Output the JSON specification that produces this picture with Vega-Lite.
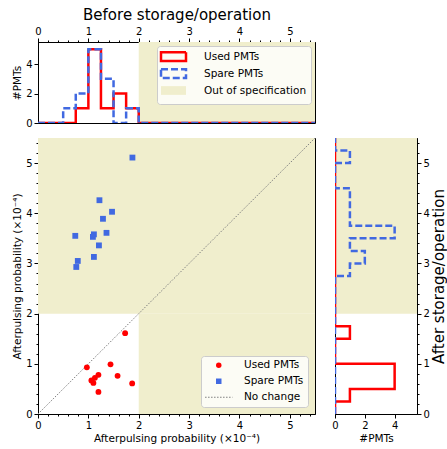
{
  "$schema": "https://vega.github.io/schema/vega-lite/v6.json",
  "background": "white",
  "padding": {"left": 12, "top": 6, "right": 1, "bottom": 2},
  "spacing": 6,
  "resolve": {"scale": {"fill": "independent", "stroke": "independent", "strokeDash": "independent", "shape": "independent", "x": "independent", "y": "independent"}, "legend": {"fill": "independent", "stroke": "independent", "strokeDash": "independent", "shape": "independent"}},
  "config": {
    "font": "DejaVu Sans",
    "view": {"stroke": "black", "strokeWidth": 1},
    "axis": {"labelFont": "DejaVu Sans", "titleFont": "DejaVu Sans", "labelFontSize": 10, "titleFontSize": 10.5, "titleFontWeight": "normal", "tickColor": "black", "domainColor": "black", "labelColor": "black", "titleColor": "black", "tickSize": 4, "labelPadding": 2, "titlePadding": 3, "grid": false, "labelFlush": false, "labelOverlap": false},
    "legend": {"labelFont": "DejaVu Sans", "labelFontSize": 10.5, "labelColor": "black", "fillColor": "rgba(255,255,255,0.8)", "strokeColor": "#cccccc", "cornerRadius": 3, "padding": 4, "symbolOpacity": 1}
  },
  "datasets": {
    "pmts": [
      {"type": "Used PMTs", "before": 0.97, "after": 0.93},
      {"type": "Used PMTs", "before": 1.06, "after": 0.67},
      {"type": "Used PMTs", "before": 1.10, "after": 0.62},
      {"type": "Used PMTs", "before": 1.13, "after": 0.72},
      {"type": "Used PMTs", "before": 1.20, "after": 0.78},
      {"type": "Used PMTs", "before": 1.20, "after": 0.44},
      {"type": "Used PMTs", "before": 1.44, "after": 0.99},
      {"type": "Used PMTs", "before": 1.58, "after": 0.76},
      {"type": "Used PMTs", "before": 1.73, "after": 1.61},
      {"type": "Used PMTs", "before": 1.87, "after": 0.61},
      {"type": "Spare PMTs", "before": 1.875, "after": 5.11},
      {"type": "Spare PMTs", "before": 1.22, "after": 4.26},
      {"type": "Spare PMTs", "before": 1.47, "after": 4.03},
      {"type": "Spare PMTs", "before": 1.29, "after": 3.89},
      {"type": "Spare PMTs", "before": 0.74, "after": 3.55},
      {"type": "Spare PMTs", "before": 1.11, "after": 3.58},
      {"type": "Spare PMTs", "before": 1.09, "after": 3.53},
      {"type": "Spare PMTs", "before": 1.36, "after": 3.61},
      {"type": "Spare PMTs", "before": 1.21, "after": 3.36},
      {"type": "Spare PMTs", "before": 1.11, "after": 3.13},
      {"type": "Spare PMTs", "before": 0.79, "after": 3.05},
      {"type": "Spare PMTs", "before": 0.76, "after": 2.93}
    ],
    "hbefore": [
      {"edge": 0, "used": 0, "spare": 0}, {"edge": 0.25, "used": 0, "spare": 0},
      {"edge": 0.5, "used": 0, "spare": 1}, {"edge": 0.75, "used": 1, "spare": 2},
      {"edge": 1.0, "used": 5, "spare": 5}, {"edge": 1.25, "used": 1, "spare": 3},
      {"edge": 1.5, "used": 2, "spare": 0}, {"edge": 1.75, "used": 1, "spare": 1},
      {"edge": 2.0, "used": 0, "spare": 0}, {"edge": 2.25, "used": 0, "spare": 0},
      {"edge": 2.5, "used": 0, "spare": 0}, {"edge": 2.75, "used": 0, "spare": 0},
      {"edge": 3.0, "used": 0, "spare": 0}, {"edge": 3.25, "used": 0, "spare": 0},
      {"edge": 3.5, "used": 0, "spare": 0}, {"edge": 3.75, "used": 0, "spare": 0},
      {"edge": 4.0, "used": 0, "spare": 0}, {"edge": 4.25, "used": 0, "spare": 0},
      {"edge": 4.5, "used": 0, "spare": 0}, {"edge": 4.75, "used": 0, "spare": 0},
      {"edge": 5.0, "used": 0, "spare": 0}, {"edge": 5.25, "used": 0, "spare": 0},
      {"edge": 5.5, "used": 0, "spare": 0}
    ],
    "hafter": [
      {"edge": 0, "used": 0, "spare": 0}, {"edge": 0.25, "used": 1, "spare": 0},
      {"edge": 0.5, "used": 4, "spare": 0}, {"edge": 0.75, "used": 4, "spare": 0},
      {"edge": 1.0, "used": 0, "spare": 0}, {"edge": 1.25, "used": 0, "spare": 0},
      {"edge": 1.5, "used": 1, "spare": 0}, {"edge": 1.75, "used": 0, "spare": 0},
      {"edge": 2.0, "used": 0, "spare": 0}, {"edge": 2.25, "used": 0, "spare": 0},
      {"edge": 2.5, "used": 0, "spare": 0}, {"edge": 2.75, "used": 0, "spare": 1},
      {"edge": 3.0, "used": 0, "spare": 2}, {"edge": 3.25, "used": 0, "spare": 1},
      {"edge": 3.5, "used": 0, "spare": 4}, {"edge": 3.75, "used": 0, "spare": 1},
      {"edge": 4.0, "used": 0, "spare": 1}, {"edge": 4.25, "used": 0, "spare": 1},
      {"edge": 4.5, "used": 0, "spare": 0}, {"edge": 4.75, "used": 0, "spare": 0},
      {"edge": 5.0, "used": 0, "spare": 1}, {"edge": 5.25, "used": 0, "spare": 0},
      {"edge": 5.5, "used": 0, "spare": 0}
    ],
    "oosTop": [{"x1": 2, "x2": 5.5, "y1": 0, "y2": 5.5}],
    "oosMain": [{"x1": 0, "x2": 5.5, "y1": 2, "y2": 5.5}, {"x1": 2, "x2": 5.5, "y1": 0, "y2": 2}],
    "oosRight": [{"x1": 0, "x2": 5.5, "y1": 2, "y2": 5.5}],
    "diag": [{"v": 0}, {"v": 5.5}]
  },
  "vconcat": [
    {
      "width": 277,
      "height": 81,
      "resolve": {"axis": {"x": "independent"}},
      "layer": [
        {
          "data": {"name": "oosTop"},
          "mark": {"type": "rect"},
          "encoding": {
            "x": {"field": "x1", "type": "quantitative", "title": "Before storage/operation",
                  "scale": {"domain": [0, 5.5], "nice": false, "zero": false},
                  "axis": {"orient": "top", "titleFontSize": 15, "titlePadding": 4, "values": [0, 1, 2, 3, 4, 5]}},
            "x2": {"field": "x2"},
            "y": {"field": "y1", "type": "quantitative", "title": "#PMTs",
                  "scale": {"domain": [0, 5.5], "nice": false, "zero": false},
                  "axis": {"values": [0, 2, 4]}},
            "y2": {"field": "y2"},
            "fill": {"datum": "Out of specification", "type": "nominal",
                     "scale": {"domain": ["Used PMTs", "Spare PMTs", "Out of specification"], "range": ["transparent", "transparent", "#f0eecd"]},
                     "legend": {"orient": "top-right", "offset": 4, "title": null,
                                "symbolType": "M-2.5,-0.875H2.5V0.875H-2.5Z", "symbolSize": 100, "symbolStrokeWidth": 2.5,
                                "symbolOffset": 6, "labelOffset": 24, "rowPadding": -2}}
          }
        },
        {
          "data": {"name": "hbefore"},
          "mark": {"type": "line", "interpolate": "step-after", "strokeWidth": 2.5, "clip": true},
          "encoding": {
            "x": {"field": "edge", "type": "quantitative", "title": null,
                  "axis": {"orient": "top", "labels": false, "domain": false, "tickSize": 2,
                           "values": [0.2,0.4,0.6,0.8,1.2,1.4,1.6,1.8,2.2,2.4,2.6,2.8,3.2,3.4,3.6,3.8,4.2,4.4,4.6,4.8,5.2,5.4]}},
            "y": {"field": "used", "type": "quantitative", "title": "#PMTs"},
            "stroke": {"datum": "Used PMTs", "type": "nominal",
                       "scale": {"domain": ["Used PMTs", "Spare PMTs", "Out of specification"], "range": ["#ff0000", "#4169e1", "transparent"]}},
            "strokeDash": {"datum": "Used PMTs", "type": "nominal",
                           "scale": {"domain": ["Used PMTs", "Spare PMTs", "Out of specification"], "range": [[1, 0], [7, 3], [1, 0]]}}
          }
        },
        {
          "data": {"name": "hbefore"},
          "mark": {"type": "line", "interpolate": "step-after", "strokeWidth": 2.5, "clip": true},
          "encoding": {
            "x": {"field": "edge", "type": "quantitative", "axis": null},
            "y": {"field": "spare", "type": "quantitative", "title": "#PMTs"},
            "stroke": {"datum": "Spare PMTs", "type": "nominal"},
            "strokeDash": {"datum": "Spare PMTs", "type": "nominal"}
          }
        }
      ]
    },
    {
      "spacing": 13,
      "resolve": {"scale": {"fill": "independent", "stroke": "independent", "strokeDash": "independent", "shape": "independent", "x": "independent", "y": "independent"}, "legend": {"fill": "independent", "stroke": "independent", "strokeDash": "independent", "shape": "independent"}},
      "hconcat": [
        {
          "width": 277,
          "height": 276,
          "resolve": {"axis": {"x": "independent", "y": "independent"}},
          "layer": [
            {
              "data": {"name": "oosMain"},
              "mark": {"type": "rect", "color": "#f0eecd"},
              "encoding": {
                "x": {"field": "x1", "type": "quantitative", "title": "Afterpulsing probability (×10⁻⁴)",
                      "scale": {"domain": [0, 5.5], "nice": false, "zero": false},
                      "axis": {"orient": "bottom", "values": [0, 1, 2, 3, 4, 5]}},
                "x2": {"field": "x2"},
                "y": {"field": "y1", "type": "quantitative", "title": "Afterpulsing probability (×10⁻⁴)",
                      "scale": {"domain": [0, 5.5], "nice": false, "zero": false},
                      "axis": {"orient": "left", "values": [0, 1, 2, 3, 4, 5]}},
                "y2": {"field": "y2"}
              }
            },
            {
              "data": {"name": "diag"},
              "mark": {"type": "line", "strokeWidth": 1, "strokeDash": [1.5, 1.5]},
              "encoding": {
                "x": {"field": "v", "type": "quantitative", "title": null,
                      "axis": {"orient": "bottom", "labels": false, "domain": false, "tickSize": 2,
                               "values": [0.2,0.4,0.6,0.8,1.2,1.4,1.6,1.8,2.2,2.4,2.6,2.8,3.2,3.4,3.6,3.8,4.2,4.4,4.6,4.8,5.2,5.4]}},
                "y": {"field": "v", "type": "quantitative", "title": null,
                      "axis": {"orient": "left", "labels": false, "domain": false, "tickSize": 2,
                               "values": [0.2,0.4,0.6,0.8,1.2,1.4,1.6,1.8,2.2,2.4,2.6,2.8,3.2,3.4,3.6,3.8,4.2,4.4,4.6,4.8,5.2,5.4]}},
                "stroke": {"datum": "No change", "type": "nominal",
                           "scale": {"domain": ["Used PMTs", "Spare PMTs", "No change"], "range": ["transparent", "transparent", "#7f7f7f"]}}
              }
            },
            {
              "data": {"name": "pmts"},
              "mark": {"type": "point", "filled": true, "size": 34, "opacity": 1, "strokeWidth": 0},
              "encoding": {
                "x": {"field": "before", "type": "quantitative", "axis": null},
                "y": {"field": "after", "type": "quantitative", "axis": null},
                "fill": {"field": "type", "type": "nominal",
                         "scale": {"domain": ["Used PMTs", "Spare PMTs", "No change"], "range": ["#ff0000", "#4169e1", "transparent"]},
                         "legend": {"orient": "bottom-right", "offset": 7, "title": null,
                                    "symbolSize": 30, "symbolStrokeWidth": 1, "symbolDash": [1.5, 1.5],
                                    "symbolOffset": 8.5, "labelOffset": 20, "rowPadding": 5}},
                "shape": {"field": "type", "type": "nominal",
                          "scale": {"domain": ["Used PMTs", "Spare PMTs", "No change"], "range": ["circle", "square", "M-5,0H5"]}}
              }
            }
          ]
        },
        {
          "width": 82,
          "height": 276,
          "resolve": {"axis": {"y": "independent"}},
          "layer": [
            {
              "data": {"name": "oosRight"},
              "mark": {"type": "rect", "color": "#f0eecd"},
              "encoding": {
                "x": {"field": "x1", "type": "quantitative", "title": "#PMTs",
                      "scale": {"domain": [0, 5.5], "nice": false, "zero": false},
                      "axis": {"values": [0, 2, 4]}},
                "x2": {"field": "x2"},
                "y": {"field": "y1", "type": "quantitative", "title": "After storage/operation",
                      "scale": {"domain": [0, 5.5], "nice": false, "zero": false},
                      "axis": {"orient": "right", "titleFontSize": 15, "titleAngle": 270, "titleBaseline": "top", "titlePadding": 2,
                               "values": [0, 1, 2, 3, 4, 5]}},
                "y2": {"field": "y2"}
              }
            },
            {
              "data": {"name": "hafter"},
              "mark": {"type": "line", "interpolate": "step-before", "strokeWidth": 2.5, "color": "#ff0000", "clip": true},
              "encoding": {
                "x": {"field": "used", "type": "quantitative", "title": "#PMTs"},
                "y": {"field": "edge", "type": "quantitative", "title": null,
                      "axis": {"orient": "right", "labels": false, "domain": false, "tickSize": 2,
                               "values": [0.2,0.4,0.6,0.8,1.2,1.4,1.6,1.8,2.2,2.4,2.6,2.8,3.2,3.4,3.6,3.8,4.2,4.4,4.6,4.8,5.2,5.4]}},
                "order": {"field": "edge", "type": "quantitative"}
              }
            },
            {
              "data": {"name": "hafter"},
              "mark": {"type": "line", "interpolate": "step-before", "strokeWidth": 2.5, "strokeDash": [7, 3], "color": "#4169e1", "clip": true},
              "encoding": {
                "x": {"field": "spare", "type": "quantitative", "title": "#PMTs"},
                "y": {"field": "edge", "type": "quantitative", "axis": null},
                "order": {"field": "edge", "type": "quantitative"}
              }
            }
          ]
        }
      ]
    }
  ]
}
